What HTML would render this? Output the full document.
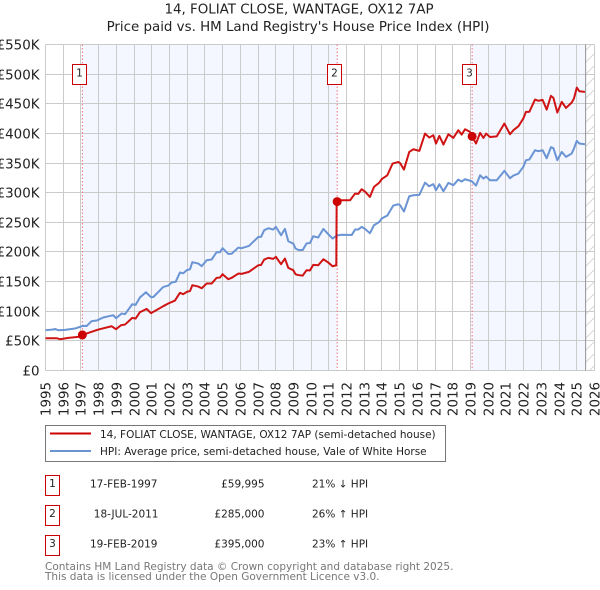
<!DOCTYPE html>
<html>
<head>
<meta charset="utf-8">
<title>14, FOLIAT CLOSE, WANTAGE, OX12 7AP</title>
<style>
html,body{margin:0;padding:0;background:#fff;}
svg{display:block;font-family:"DejaVu Sans","Liberation Sans",sans-serif;}
</style>
</head>
<body>
<svg id="chart" xmlns="http://www.w3.org/2000/svg" width="600" height="590" viewBox="0 0 600 590">
  <defs>
    <pattern id="hatch" patternUnits="userSpaceOnUse" width="12" height="12">
      <path d="M-3 15 L15 -3 M-3 3 L3 -3 M9 15 L15 9" stroke="#d2d2d2" stroke-width="0.9" fill="none"/>
    </pattern>
  </defs>
  <rect width="600" height="590" fill="#ffffff"/>
  <text x="299" y="13.5" font-size="13.4" text-anchor="middle" fill="#222">14, FOLIAT CLOSE, WANTAGE, OX12 7AP</text>
  <text x="298" y="31" font-size="13.4" text-anchor="middle" fill="#222">Price paid vs. HM Land Registry's House Price Index (HPI)</text>
  <g id="bands"></g>
  <g id="grid"></g>
  <g id="ticks"></g>
  <g id="events"></g>
  <g id="series"></g>
  <g id="markers"></g>

  <g>
    <rect x="45.5" y="425.5" width="400" height="36" fill="#fff" stroke="#777" stroke-width="1"/>
    <line x1="50" y1="433.5" x2="91" y2="433.5" stroke="#cc0000" stroke-width="2"/>
    <text x="100" y="438" font-size="10.5" fill="#222">14, FOLIAT CLOSE, WANTAGE, OX12 7AP (semi-detached house)</text>
    <line x1="50" y1="451" x2="91" y2="451" stroke="#6a94d4" stroke-width="2"/>
    <text x="100" y="455" font-size="10.5" fill="#222">HPI: Average price, semi-detached house, Vale of White Horse</text>
  </g>

  <g font-size="10.5" fill="#222">
    <rect x="45.5" y="475.5" width="14" height="20" fill="#fff" stroke="#c00" stroke-width="1"/>
    <text x="52.5" y="487" text-anchor="middle">1</text>
    <text x="157.5" y="487.5" text-anchor="end">17-FEB-1997</text>
    <text x="264.5" y="487.5" text-anchor="end">£59,995</text>
    <text x="312" y="487.5">21% ↓ HPI</text>
    <rect x="45.5" y="505.5" width="14" height="20" fill="#fff" stroke="#c00" stroke-width="1"/>
    <text x="52.5" y="517" text-anchor="middle">2</text>
    <text x="158.5" y="517.5" text-anchor="end">18-JUL-2011</text>
    <text x="264.5" y="517.5" text-anchor="end">£285,000</text>
    <text x="312" y="517.5">26% ↑ HPI</text>
    <rect x="45.5" y="535.5" width="14" height="20" fill="#fff" stroke="#c00" stroke-width="1"/>
    <text x="52.5" y="547" text-anchor="middle">3</text>
    <text x="157.5" y="547.5" text-anchor="end">19-FEB-2019</text>
    <text x="264.5" y="547.5" text-anchor="end">£395,000</text>
    <text x="312" y="547.5">23% ↑ HPI</text>
  </g>
  <text x="45" y="570" font-size="10.5" fill="#777">Contains HM Land Registry data © Crown copyright and database right 2025.</text>
  <text x="45" y="580" font-size="10.5" fill="#777">This data is licensed under the Open Government Licence v3.0.</text>
</svg>
<script>
var yearTicks = [1995,1996,1997,1998,1999,2000,2001,2002,2003,2004,2005,2006,2007,2008,2009,2010,2011,2012,2013,2014,2015,2016,2017,2018,2019,2020,2021,2022,2023,2024,2025,2026];
var priceTicks = [0,50,100,150,200,250,300,350,400,450,500,550];
var priceTickLabels = ['£0','£50K','£100K','£150K','£200K','£250K','£300K','£350K','£400K','£450K','£500K','£550K'];
var saleDates = [1997.08,2011.47,2019.09];
var salePrices = [60,285,395];
var saleLabels = ['1','2','3'];
var dataEnd = 2025.5;

var hpiDates = [1995,1995.44,1995.53,1995.72,1996.1,1996.66,1996.95,1997.1,1997.32,1997.6,1997.89,1998.26,1998.83,1998.98,1999.3,1999.49,1999.9,2000.09,2000.33,2000.67,2000.96,2001.09,2001.65,2001.93,2002.12,2002.35,2002.59,2002.78,2002.97,2003.16,2003.29,2003.63,2003.82,2004.1,2004.38,2004.66,2004.85,2005,2005.32,2005.51,2005.89,2006.07,2006.49,2007.02,2007.17,2007.35,2007.58,2007.86,2008.01,2008.3,2008.52,2008.71,2008.99,2009.12,2009.27,2009.52,2009.74,2009.93,2010.12,2010.4,2010.69,2010.97,2011.21,2011.44,2011.72,2012.29,2012.48,2012.66,2012.85,2013.04,2013.32,2013.55,2013.85,2013.98,2014.3,2014.64,2014.92,2015.02,2015.24,2015.54,2015.77,2016.11,2016.43,2016.66,2016.9,2017.05,2017.24,2017.47,2017.75,2018.03,2018.31,2018.5,2018.69,2019.07,2019.31,2019.54,2019.73,2019.88,2020.1,2020.48,2020.91,2021.23,2021.42,2021.7,2021.98,2022.13,2022.32,2022.64,2022.83,2023.07,2023.3,2023.54,2023.68,2023.9,2024.15,2024.39,2024.71,2024.84,2025,2025.14,2025.46];
var hpiValues = [68,69.1,70.2,68,68.5,70.8,73.6,75.3,75,83.2,84.3,89.4,93.3,88.2,96.1,95,111.8,110.7,123.1,132,123.7,124,141,143.3,148.4,149.7,165.3,164,169.2,170.8,182.7,180.4,176,186,187.2,199.6,199.6,206.3,196.7,197,207.4,206.3,210.2,225.4,225.4,236.7,240,237.8,242.3,228.2,238.9,218.1,214.2,205.8,203.5,203,214.2,215,226.5,224.3,238.9,229.9,222.6,227.7,229,228.5,237.8,237.8,242.3,238.9,231.6,245.1,250.7,256.4,261.4,278.3,280.5,279,268.2,294,295.7,296.3,317,310.9,314.3,304.1,314.3,302.5,316.5,312.6,322.1,318.8,322.7,319.3,312,329.4,323.8,327.2,321,321,336.8,324.4,328.9,332.3,343.5,354.8,355.9,371.6,370,371.6,358.1,376.7,375,354.8,368.8,360.4,366,374.4,387.4,382.9,381.8];

var priceDates = [1995,1995.63,1995.82,1996.29,1996.85,1997.08,1997.6,1997.98,1998.73,1998.98,1999.26,1999.49,1999.9,2000.09,2000.33,2000.71,2000.96,2001.65,2001.93,2002.31,2002.59,2002.78,2002.97,2003.16,2003.29,2003.63,2003.82,2004.1,2004.38,2004.66,2004.85,2005,2005.32,2005.51,2005.89,2006.07,2006.49,2007.02,2007.17,2007.35,2007.58,2007.86,2008.01,2008.3,2008.52,2008.71,2008.99,2009.12,2009.27,2009.52,2009.74,2009.93,2010.12,2010.4,2010.69,2010.97,2011.21,2011.42,2011.44,2011.72,2012.2,2012.48,2012.66,2012.85,2013.04,2013.32,2013.55,2013.85,2013.98,2014.3,2014.6,2014.92,2015.02,2015.24,2015.54,2015.77,2016.11,2016.43,2016.67,2016.9,2017.05,2017.24,2017.47,2017.75,2018.03,2018.31,2018.5,2018.69,2018.97,2019.09,2019.31,2019.54,2019.73,2019.88,2020.1,2020.48,2020.91,2021.23,2021.42,2021.7,2021.98,2022.13,2022.32,2022.64,2022.83,2023.07,2023.3,2023.54,2023.68,2023.9,2024.15,2024.39,2024.71,2024.84,2025,2025.14,2025.46];
var priceValues = [54.5,54.5,52.8,55,56.7,60,65.2,69.1,74.7,69.7,76.4,77.5,88.8,87.6,98.3,104,96.7,108.5,113,118,131,128.7,132.6,134,143.9,141.6,138.8,146.7,146.7,156.3,156.8,162.4,154,156.3,163.6,163,166.4,177.6,178,187.2,190,188.3,191.7,179.3,188.9,173.1,169.2,162.4,161,160,169.2,168.8,178.2,177.6,187.7,182.1,175.9,177.6,285,287.3,287.3,298.5,298,305.8,301.9,292.9,309.8,317,322.7,329.4,349.1,351.9,350,339,368.8,373.3,370.5,399.7,393,396.9,382.9,395.8,381.2,398.6,392.4,405.4,398,407,402.5,395,382.9,400.9,392.4,399.7,394,395,416.6,398.6,405.4,412,425,436.3,436.3,457.1,455,456.6,440.2,463.3,460,435.2,453.2,443,452,458.8,477.3,471.2,470];

var NS = 'http://www.w3.org/2000/svg';
var plotLeft = 45.5, plotRight = 594.5, plotTop = 44.5, plotBottom = 370.5;
function xScale(year) { return plotLeft + (year - 1995) * (plotRight - plotLeft) / 31; }
function yScale(k) { return plotBottom - k * (plotBottom - plotTop) / 550; }
function make(parentId, tag, attrs) {
  var el = document.createElementNS(NS, tag);
  for (var key in attrs) { el.setAttribute(key, attrs[key]); }
  document.getElementById(parentId).appendChild(el);
  return el;
}
function linePoints(dates, values) {
  return dates.map(function (d, i) { return xScale(d).toFixed(2) + ',' + yScale(values[i]).toFixed(2); }).join(' ');
}

var bandEdges = [[saleDates[0], saleDates[1]], [saleDates[2], dataEnd]];
bandEdges.forEach(function (edge) {
  var band = make('bands', 'rect', {x: xScale(edge[0]), y: plotTop, width: xScale(edge[1]) - xScale(edge[0]), height: plotBottom - plotTop, fill: '#f4f7ff'});
  
  
});
var hatchRect = make('bands', 'rect', {x: xScale(dataEnd), y: plotTop, width: plotRight - xScale(dataEnd), height: plotBottom - plotTop, fill: 'url(#hatch)'});



yearTicks.forEach(function (year) {
  var x = Math.round(xScale(year) - 0.5) + 0.5;
  var line = make('grid', 'line', {x1: x, x2: x, y1: plotTop, y2: plotBottom, stroke: '#cbcbcb', 'stroke-width': 1});
  
  
  var label = make('ticks', 'text', {transform: 'translate(' + (x + 5) + ',382) rotate(-90)', 'font-size': 13.4, 'text-anchor': 'end', fill: '#222'});
  
  
  label.textContent = String(year);
});
priceTicks.forEach(function (value, i) {
  var y = Math.round(yScale(value) - 0.5) + 0.5;
  var line = make('grid', 'line', {x1: plotLeft, x2: plotRight, y1: y, y2: y, stroke: '#cbcbcb', 'stroke-width': 1});
  
  
  var label = make('ticks', 'text', {x: 39.5, y: y + 5, 'font-size': 13.4, 'text-anchor': 'end', fill: '#222'});
  
  
  label.textContent = priceTickLabels[i];
});
var endLine = make('grid', 'line', {x1: xScale(dataEnd), x2: xScale(dataEnd), y1: plotTop, y2: plotBottom, stroke: '#909090', 'stroke-width': 1});



saleDates.forEach(function (date) {
  var line = make('events', 'line', {x1: xScale(date), x2: xScale(date), y1: plotTop, y2: plotBottom, stroke: '#f0707a', 'stroke-width': 1, 'stroke-dasharray': '1.5,2'});
  
  
});

var hpiLine = make('series', 'polyline', {points: linePoints(hpiDates, hpiValues), fill: 'none', stroke: '#6a94d4', 'stroke-width': 2, 'stroke-linejoin': 'round'});


var priceLine = make('series', 'polyline', {points: linePoints(priceDates, priceValues), fill: 'none', stroke: '#cc0000', 'stroke-width': 2, 'stroke-linejoin': 'round', 'stroke-opacity': 0.92});



saleDates.forEach(function (date, i) {
  var dot = make('markers', 'circle', {cx: xScale(date), cy: yScale(salePrices[i]), r: 4.5, fill: '#cc0000'});
  
  
  var boxX = Math.round(xScale(date) - 10) + 0.5;
  var box = make('markers', 'rect', {x: boxX, y: 64.5, width: 14, height: 20, fill: '#fff', stroke: '#cc0000', 'stroke-width': 1});
  
  
  var num = make('markers', 'text', {x: boxX + 7, y: 76.5, 'font-size': 10.5, 'text-anchor': 'middle', fill: '#222'});
  
  
  num.textContent = saleLabels[i];
});
</script>
</body>
</html>
